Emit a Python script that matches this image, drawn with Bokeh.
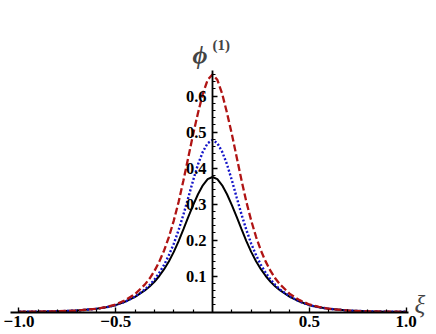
from bokeh.plotting import figure
from bokeh.models import FixedTicker, Label, Range1d, CustomJSTickFormatter
from bokeh.embed import file_html
from bokeh.resources import INLINE

# right half of the symmetric profiles
xi = [0.0, 0.025, 0.05, 0.075, 0.1, 0.125, 0.15, 0.175, 0.2, 0.225, 0.25, 0.275, 0.3, 0.325, 0.35,
      0.4, 0.45, 0.5, 0.55, 0.6, 0.7, 0.8, 0.9, 1.0]
phi_black = [0.375, 0.369, 0.352, 0.327, 0.297, 0.264, 0.230, 0.197, 0.167, 0.141, 0.119, 0.100,
             0.084, 0.071, 0.060, 0.042, 0.029, 0.019, 0.013, 0.009, 0.004, 0.002, 0.001, 0.0005]
phi_blue = [0.478, 0.469, 0.445, 0.410, 0.366, 0.318, 0.271, 0.228, 0.190, 0.158, 0.131, 0.109,
            0.090, 0.075, 0.062, 0.043, 0.029, 0.019, 0.013, 0.009, 0.004, 0.002, 0.001, 0.0005]
phi_red = [0.660, 0.645, 0.606, 0.553, 0.494, 0.430, 0.366, 0.306, 0.254, 0.209, 0.171, 0.140,
           0.114, 0.093, 0.076, 0.050, 0.033, 0.021, 0.014, 0.009, 0.004, 0.002, 0.001, 0.0005]

x_major = [-1.0, -0.5, 0.5, 1.0]
x_minor = [-0.9, -0.8, -0.7, -0.6, -0.4, -0.3, -0.2, -0.1, 0.1, 0.2, 0.3, 0.4, 0.6, 0.7, 0.8, 0.9]
y_major = [0.1, 0.2, 0.3, 0.4, 0.5, 0.6]
y_minor = [0.02, 0.04, 0.06, 0.08, 0.12, 0.14, 0.16, 0.18, 0.22, 0.24, 0.26, 0.28,
           0.32, 0.34, 0.36, 0.38, 0.42, 0.44, 0.46, 0.48, 0.52, 0.54, 0.56, 0.58,
           0.62, 0.64, 0.66]


def full(xs, ys):
    fx = [-v for v in reversed(xs[1:])] + list(xs)
    fy = list(reversed(ys[1:])) + list(ys)
    return fx, fy


p = figure(width=436, height=334, x_range=Range1d(-1.0956, 1.1576), y_range=Range1d(-0.0625, 0.8653),
           output_backend="svg", toolbar_location=None, min_border=0)
p.grid.visible = False
p.outline_line_color = None
p.background_fill_color = "white"

FONT = "Liberation Serif"
for ax in (p.xaxis[0], p.yaxis[0]):
    ax.axis_line_width = 1.8
    ax.axis_line_color = "black"
    ax.major_tick_in = 5
    ax.major_tick_out = 0
    ax.minor_tick_in = 3
    ax.minor_tick_out = 0
    ax.major_tick_line_width = 1.4
    ax.minor_tick_line_width = 1.2
    ax.major_label_text_font = FONT
    ax.major_label_text_font_style = "bold"
    ax.major_label_text_color = "black"

p.xaxis.major_label_text_font_size = "17px"
p.yaxis.major_label_text_font_size = "16.5px"
p.xaxis.fixed_location = 0
p.yaxis.fixed_location = 0
p.xaxis.bounds = (-1.044, 1.013)
p.yaxis.bounds = (0, 0.67)
p.xaxis.ticker = FixedTicker(ticks=x_major, minor_ticks=x_minor)
p.yaxis.ticker = FixedTicker(ticks=y_major, minor_ticks=y_minor)
p.xaxis.formatter = CustomJSTickFormatter(code="return (tick < 0 ? '\\u2212' : '') + Math.abs(tick).toFixed(1);")
p.yaxis.formatter = CustomJSTickFormatter(code="return tick.toFixed(1);")
p.xaxis.major_label_standoff = 4
p.yaxis.major_label_standoff = 6

bx, by = full(xi, phi_black)
ux, uy = full(xi, phi_blue)
rx, ry = full(xi, phi_red)
p.line(bx, by, line_color="black", line_width=2)
p.line(ux, uy, line_color="#1414c8", line_width=2.4, line_dash="2 2")
p.line(rx, ry, line_color="#b01414", line_width=2.3, line_dash="7 3")

p.add_layout(Label(x=192, y=279, x_units="screen", y_units="screen", text="ϕ", text_baseline="alphabetic",
                   text_font=FONT, text_font_style="bold italic", text_font_size="26px"))
p.add_layout(Label(x=212, y=290, x_units="screen", y_units="screen", text="(1)", text_baseline="alphabetic",
                   text_font=FONT, text_font_style="bold", text_font_size="15px"))
p.add_layout(Label(x=414, y=30, x_units="screen", y_units="screen", text="ξ", text_baseline="alphabetic",
                   text_font=FONT, text_font_style="italic", text_font_size="25px"))

open("out.html", "w").write(file_html(p, INLINE))
